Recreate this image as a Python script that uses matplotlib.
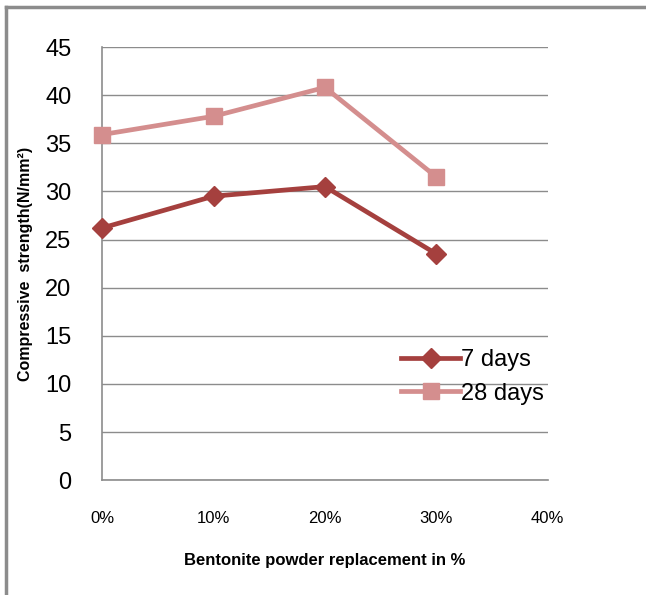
import numpy as np
import matplotlib
matplotlib.use("Agg")
import matplotlib.pyplot as plt
from matplotlib.lines import Line2D

# data
replacement = [0.0, 0.1, 0.2, 0.3]
days7 = [26.2, 29.5, 30.5, 23.5]
days28 = [35.9, 37.8, 40.8, 31.5]
xtick_vals = [0.0, 0.1, 0.2, 0.3, 0.4]
xtick_labels = ["0%", "10%", "20%", "30%", "40%"]
ytick_vals = list(range(0, 46, 5))

narrow = ["Liberation Sans Narrow", "Liberation Sans", "DejaVu Sans"]
plain = ["Liberation Sans", "DejaVu Sans"]

fig = plt.figure(figsize=(6.46, 5.95), dpi=100)
ax = fig.add_axes([0.158, 0.193, 0.690, 0.728])

c7 = "#a5403e"
c28 = "#d48e8e"
ax.plot(replacement, days7, color=c7, lw=3.4, marker="D", ms=10, label="7 days",
        zorder=3, clip_on=False)
ax.plot(replacement, days28, color=c28, lw=3.4, marker="s", ms=12, label="28 days",
        zorder=3, clip_on=False)

ax.set_xlim(0, 0.4)
ax.set_ylim(0, 45)
ax.set_xticks(xtick_vals)
ax.set_xticklabels(xtick_labels, family=narrow, fontsize=12)
ax.set_yticks(ytick_vals)
ax.set_yticklabels([str(v) for v in ytick_vals], family=plain, fontsize=17)
ax.tick_params(axis="both", length=0)
ax.tick_params(axis="x", pad=22)
ax.tick_params(axis="y", pad=22)

ax.yaxis.grid(True, color="#8c8c8c", lw=1)
ax.set_axisbelow(True)
for s in ["top", "right"]:
    ax.spines[s].set_visible(False)
for s in ["left", "bottom"]:
    ax.spines[s].set_color("#8c8c8c")
    ax.spines[s].set_linewidth(1.2)

ax.set_xlabel("Bentonite powder replacement in %", family=narrow, fontsize=12,
              fontweight="bold", labelpad=20)
ax.set_ylabel("Compressive  strength(N/mm²)", family=narrow, fontsize=11.5,
              fontweight="bold", labelpad=9)

leg = ax.legend(loc="upper left", bbox_to_anchor=(0.65, 0.325), frameon=False,
                prop={"family": plain, "size": 17}, handlelength=2.5,
                handletextpad=0.05, labelspacing=0.5, borderaxespad=0)

# outer border (left and top)
fig.add_artist(Line2D([0.009, 0.009], [0, 0.988], color="#8c8c8c", lw=2.5,
                      transform=fig.transFigure))
fig.add_artist(Line2D([0.009, 1.0], [0.988, 0.988], color="#8c8c8c", lw=2.5,
                      transform=fig.transFigure))

fig.savefig("out.png", dpi=100)
